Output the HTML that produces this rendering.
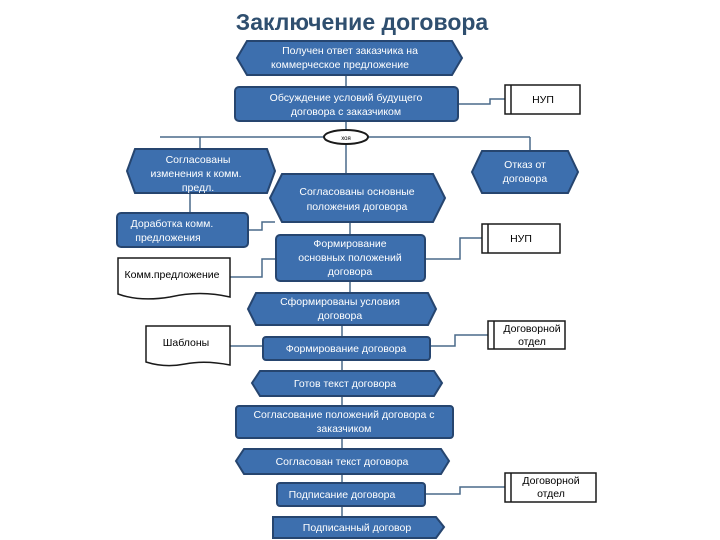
<!DOCTYPE html>
<html><head><meta charset="utf-8"><style>
html,body{margin:0;padding:0;background:#fff;}
svg{display:block;}
text{font-family:"Liberation Sans",sans-serif;}
.b{fill:#3d6fae;stroke:#26456f;stroke-width:2;}
.w{fill:#fff;stroke:#1a1a1a;stroke-width:1.5;}
.l{stroke:#4a6a8a;stroke-width:1.5;fill:none;}
.t{fill:#fff;font-size:10.5px;text-anchor:middle;}
.k{fill:#000;font-size:10.5px;text-anchor:middle;}
</style></head><body>
<svg width="720" height="540" viewBox="0 0 720 540">
<text x="362" y="30" text-anchor="middle" font-size="23" font-weight="bold" fill="#2f4f6f">Заключение договора</text>
<!-- connectors -->
<path class="l" d="M346 75V87 M346 121V130 M160 137H530 M346 144V173 M200 137V148 M530 137V150 M190 193V213 M248 230H262V222H275 M350 222V235 M230 277H262V259H276 M425 259H460V238H482 M350 281V292 M342 325V336 M230 346H263 M430 346H455V335H488 M342 360V370 M342 396V405 M342 438V448 M342 474V482 M425 494H460V487H505 M342 506V516 M458 104H490V99H505"/>
<!-- 1 -->
<polygon class="b" points="247,41 452,41 462,58 452,75 247,75 237,58"/>
<text class="t" x="350" y="54">Получен  ответ  заказчика   на</text>
<text class="t" x="340" y="68">коммерческое предложение</text>
<rect class="b" x="235" y="87" width="223" height="34" rx="4"/>
<text class="t" x="346" y="101">Обсуждение условий  будущего</text>
<text class="t" x="346" y="115">договора с заказчиком</text>
<rect class="w" x="505" y="85" width="75" height="29"/><line x1="511" y1="85" x2="511" y2="114" stroke="#1a1a1a" stroke-width="1.5"/>
<text class="k" x="543" y="103">НУП</text>
<ellipse cx="346" cy="137" rx="22" ry="7" fill="#fff" stroke="#1a1a1a" stroke-width="2"/>
<text x="346" y="140" font-size="6" text-anchor="middle">хоя</text>
<polygon class="b" points="135,149 267,149 275,171 267,193 135,193 127,171"/>
<text class="t" x="198" y="163">Согласованы</text>
<text class="t" x="196" y="177">изменения к комм.</text>
<text class="t" x="198" y="191">предл.</text>
<polygon class="b" points="282,174 433,174 445,198 433,222 282,222 270,198"/>
<text class="t" x="357" y="195">Согласованы основные</text>
<text class="t" x="357" y="210">положения договора</text>
<polygon class="b" points="482,151 568,151 578,172 568,193 482,193 472,172"/>
<text class="t" x="525" y="168">Отказ от</text>
<text class="t" x="525" y="182">договора</text>
<rect class="b" x="117" y="213" width="131" height="34" rx="4"/>
<text class="t" x="172" y="227">Доработка комм.</text>
<text class="t" x="168" y="241">предложения</text>
<rect class="b" x="276" y="235" width="149" height="46" rx="4"/>
<text class="t" x="350" y="247">Формирование</text>
<text class="t" x="350" y="261">основных положений</text>
<text class="t" x="350" y="275">договора</text>
<rect class="w" x="482" y="224" width="78" height="29"/><line x1="488" y1="224" x2="488" y2="253" stroke="#1a1a1a" stroke-width="1.5"/>
<text class="k" x="521" y="242">НУП</text>
<path class="w" d="M118 258H230V297Q200 290 170 297Q140 302 118 294Z"/>
<text class="k" x="172" y="278" font-size="10">Комм.предложение</text>
<polygon class="b" points="256,293 428,293 436,309 428,325 256,325 248,309"/>
<text class="t" x="340" y="305">Сформированы условия</text>
<text class="t" x="340" y="319">договора</text>
<path class="w" d="M146 326H230V365Q205 360 185 364Q165 368 146 362Z"/>
<text class="k" x="186" y="346" font-size="10">Шаблоны</text>
<rect class="b" x="263" y="337" width="167" height="23" rx="3"/>
<text class="t" x="346" y="352">Формирование договора</text>
<rect class="w" x="488" y="321" width="77" height="28"/><line x1="494" y1="321" x2="494" y2="349" stroke="#1a1a1a" stroke-width="1.5"/>
<text class="k" x="532" y="332">Договорной</text>
<text class="k" x="532" y="345">отдел</text>
<polygon class="b" points="260,371 434,371 442,383 434,396 260,396 252,383"/>
<text class="t" x="345" y="387">Готов текст договора</text>
<rect class="b" x="236" y="406" width="217" height="32" rx="3"/>
<text class="t" x="344" y="418">Согласование положений договора с</text>
<text class="t" x="344" y="432">заказчиком</text>
<polygon class="b" points="244,449 441,449 449,461 441,474 244,474 236,461"/>
<text class="t" x="342" y="465">Согласован текст договора</text>
<rect class="b" x="277" y="483" width="148" height="23" rx="3"/>
<text class="t" x="342" y="498">Подписание договора</text>
<rect class="w" x="505" y="473" width="91" height="29"/><line x1="511" y1="473" x2="511" y2="502" stroke="#1a1a1a" stroke-width="1.5"/>
<text class="k" x="551" y="484">Договорной</text>
<text class="k" x="551" y="497">отдел</text>
<polygon class="b" points="273,517 436,517 444,527 436,538 273,538"/>
<text class="t" x="357" y="531">Подписанный договор</text>
</svg>
</body></html>
